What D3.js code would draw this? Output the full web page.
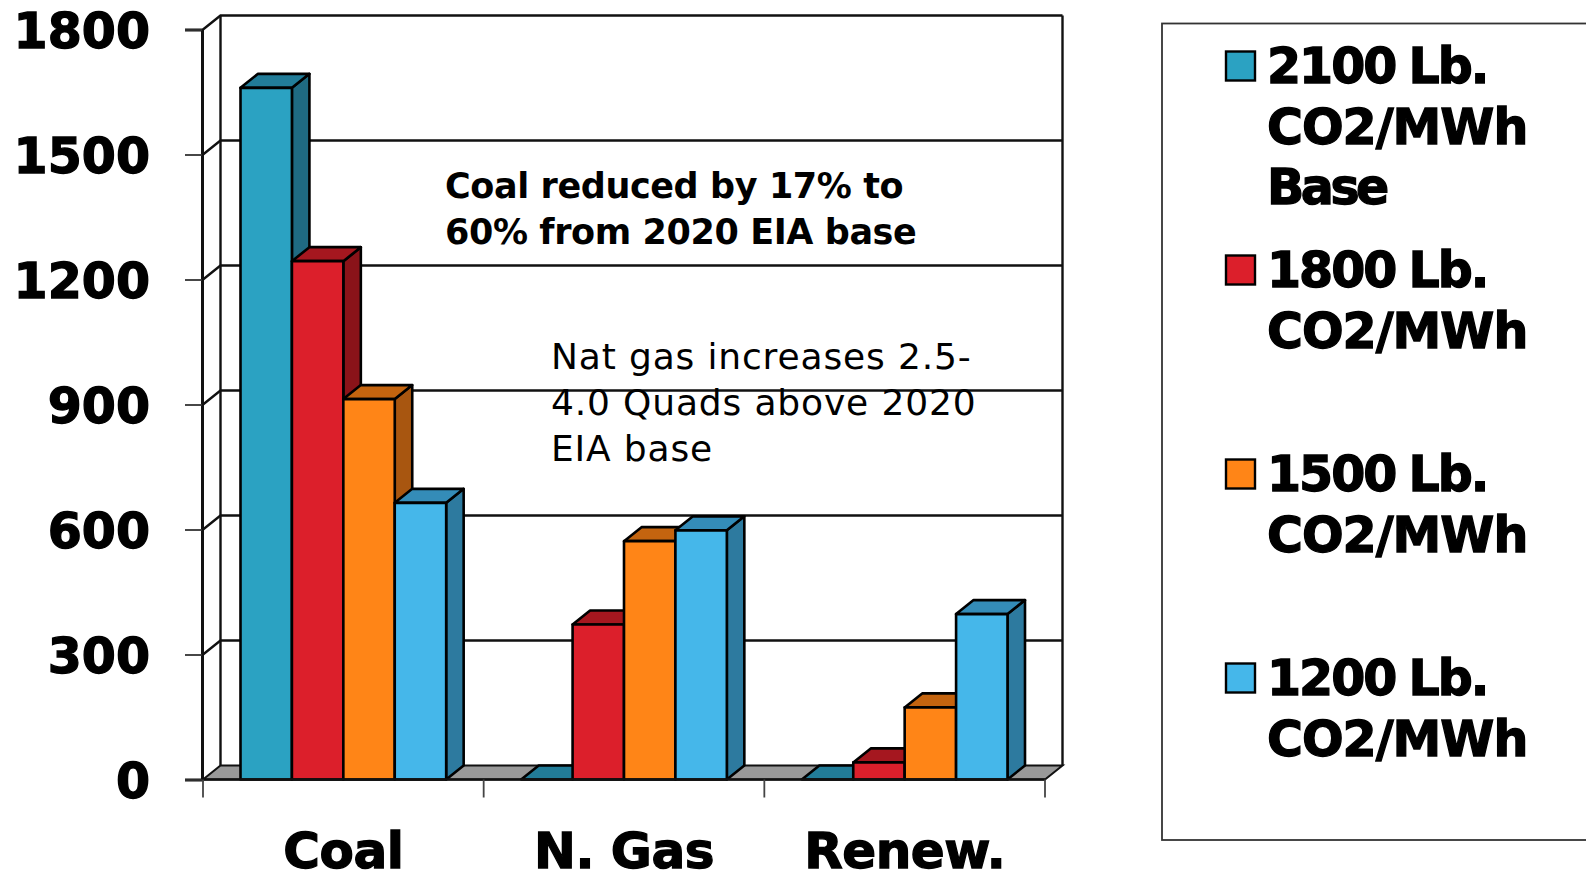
<!DOCTYPE html>
<html>
<head>
<meta charset="utf-8">
<script src="https://cdn.jsdelivr.net/npm/d3@7"></script>
<style>
html, body { margin: 0; padding: 0; background: #fff; overflow: hidden; }
svg { display: block; }
text { fill: #000; }
.big { font-family: "DejaVu Sans", sans-serif; font-weight: 700; stroke: #000; stroke-width: 1.3px; }
</style>
</head>
<body>
<svg id="chart" width="1586" height="880"></svg>
<script>
// Electricity generation mix under CO2 emission caps
const categories = ["Coal", "N. Gas", "Renew."];
const seriesNames = ["2100", "1800", "1500", "1200"];
const coalValues = [1660, 1244, 913, 664];
const gasValues = [0, 372, 572, 598];
const renewValues = [0, 41, 173, 397];
const yTicks = [0, 300, 600, 900, 1200, 1500, 1800];

const legendLines = [
  ["2100 Lb.", "CO2/MWh", "Base"],
  ["1800 Lb.", "CO2/MWh"],
  ["1500 Lb.", "CO2/MWh"],
  ["1200 Lb.", "CO2/MWh"]
];
const frontColors = ["#2ba2c2", "#dc1f2b", "#ff8517", "#45b7ea"];
const topColors = ["#227c98", "#a5171f", "#c4640f", "#348cb8"];
const sideColors = ["#1f6a82", "#8a1319", "#a85610", "#2d7a9f"];
const noteCoal = ["Coal reduced by 17% to", "60% from 2020 EIA base"];
const noteGas = ["Nat gas increases 2.5-", "4.0 Quads above 2020", "EIA base"];

const valuesByCategory = [coalValues, gasValues, renewValues];
const ink = "#111";

const svg = d3.select("#chart");

// Front plane of the 3D box and the offset to its back wall
const plot = { left: 203, right: 1045, bottom: 779.5, top: 29.5 };
const depth = { x: 17.5, y: -14 };

const y = d3.scaleLinear().domain([0, 1800]).range([plot.bottom, plot.top]);
const x0 = d3.scaleBand().domain(categories).range([plot.left, plot.right]);
// Bars fill the middle of each category band
const clusterInset = 37.5;
const x1 = d3.scaleBand().domain(seriesNames)
  .range([clusterInset, x0.bandwidth() - clusterInset]);

const poly = pts => pts.map(p => p.join(",")).join(" ");

// Floor
svg.append("polygon")
  .attr("points", poly([
    [plot.left, plot.bottom],
    [plot.right, plot.bottom],
    [plot.right + depth.x, plot.bottom + depth.y],
    [plot.left + depth.x, plot.bottom + depth.y]
  ]))
  .attr("fill", "#999").attr("stroke", ink).attr("stroke-width", 2);

// Back wall gridlines with their slanted returns on the side wall
const grid = svg.append("g").attr("fill", "none").attr("stroke", ink).attr("stroke-width", 2.4);
grid.selectAll("path").data(yTicks.slice(1)).join("path")
  .attr("d", v => `M${plot.left},${y(v)}L${plot.left + depth.x},${y(v) + depth.y}L${plot.right + depth.x},${y(v) + depth.y}`);
grid.append("line")
  .attr("x1", plot.left + depth.x).attr("x2", plot.left + depth.x)
  .attr("y1", y(1800) + depth.y).attr("y2", plot.bottom + depth.y);
grid.append("line")
  .attr("x1", plot.right + depth.x).attr("x2", plot.right + depth.x)
  .attr("y1", y(1800) + depth.y).attr("y2", plot.bottom + depth.y);

// Bars: painted left to right so each one overlaps its neighbour's side face
const bars = svg.append("g").attr("stroke", "#000").attr("stroke-width", 2.6).attr("stroke-linejoin", "round");
categories.forEach((cat, c) => {
  valuesByCategory[c].forEach((v, s) => {
    const l = x0(cat) + x1(seriesNames[s]);
    const r = l + x1.bandwidth();
    const t = y(v);
    const b = y(0);
    const g = bars.append("g");
    if (v > 0) {
      g.append("polygon")
        .attr("points", poly([[r, t], [r + depth.x, t + depth.y], [r + depth.x, b + depth.y], [r, b]]))
        .attr("fill", sideColors[s]);
    }
    g.append("polygon")
      .attr("points", poly([[l, t], [r, t], [r + depth.x, t + depth.y], [l + depth.x, t + depth.y]]))
      .attr("fill", topColors[s]);
    if (v > 0) {
      g.append("rect")
        .attr("x", l).attr("y", t)
        .attr("width", r - l).attr("height", b - t)
        .attr("fill", frontColors[s]);
    }
  });
});

// Value axis
const yAxis = svg.append("g")
  .attr("transform", `translate(${plot.left - 1},0)`)
  .call(d3.axisLeft(y).tickValues(yTicks).tickSize(17).tickPadding(35).tickFormat(d3.format("d")));
yAxis.select(".domain").attr("stroke", ink).attr("stroke-width", 3);
yAxis.selectAll(".tick line").attr("stroke", "#333").attr("stroke-width", 1.8);
yAxis.selectAll(".tick text")
  .attr("class", "big").attr("font-size", 49).attr("dy", "0.37em").attr("fill", "#000");

// Category axis
const xAxis = svg.append("g")
  .attr("transform", `translate(0,${plot.bottom})`)
  .call(d3.axisBottom(x0).tickSize(0).tickPadding(53));
xAxis.select(".domain").attr("stroke", ink).attr("stroke-width", 2.6).attr("d", `M${plot.left},0H${plot.right}`);
xAxis.selectAll(".tick text")
  .attr("class", "big").attr("font-size", 50).attr("dy", "0.71em").attr("fill", "#000")
  .attr("letter-spacing", -0.5);
svg.append("g").selectAll("line")
  .data(x0.domain().map(d => x0(d)).concat(plot.right)).join("line")
  .attr("x1", d => d).attr("x2", d => d)
  .attr("y1", plot.bottom).attr("y2", plot.bottom + 18)
  .attr("stroke", "#444").attr("stroke-width", 1.8);

// Annotations
const coalNote = svg.append("text")
  .attr("font-family", "'DejaVu Sans', sans-serif").attr("font-weight", 700).attr("font-size", 35)
  .attr("letter-spacing", -0.4);
coalNote.selectAll("tspan").data(noteCoal).join("tspan")
  .attr("x", 445).attr("y", (d, i) => 198 + i * 45.5).text(d => d);
const gasNote = svg.append("text")
  .attr("font-family", "'DejaVu Sans', sans-serif").attr("font-size", 36)
  .attr("letter-spacing", 0.85);
gasNote.selectAll("tspan").data(noteGas).join("tspan")
  .attr("x", 551).attr("y", (d, i) => 369 + i * 46).text(d => d);

// Legend
svg.append("rect")
  .attr("x", 1162).attr("y", 23.5).attr("width", 460).attr("height", 816.5)
  .attr("fill", "none").attr("stroke", "#333").attr("stroke-width", 1.8);
const legend = svg.append("g");
const entry = legend.selectAll("g").data(legendLines).join("g")
  .attr("transform", (d, i) => `translate(0,${66 + i * 204})`);
entry.append("rect")
  .attr("x", 1226).attr("y", -14.5).attr("width", 29).attr("height", 29)
  .attr("fill", (d, i) => frontColors[i]).attr("stroke", "#000").attr("stroke-width", 2.4);
const labels = entry.append("text").attr("class", "big").attr("font-size", 49);
// Tighter tracking per line so the wrapped label keeps a compact block
const lineTracking = [-2, -1, -3.5];
labels.selectAll("tspan").data(d => d).join("tspan")
  .attr("x", 1267).attr("y", (d, i) => 17 + i * 60.5)
  .attr("letter-spacing", (d, i) => lineTracking[i])
  .attr("word-spacing", (d, i) => i === 0 ? -2 : 0)
  .text(d => d);
</script>
</body>
</html>
